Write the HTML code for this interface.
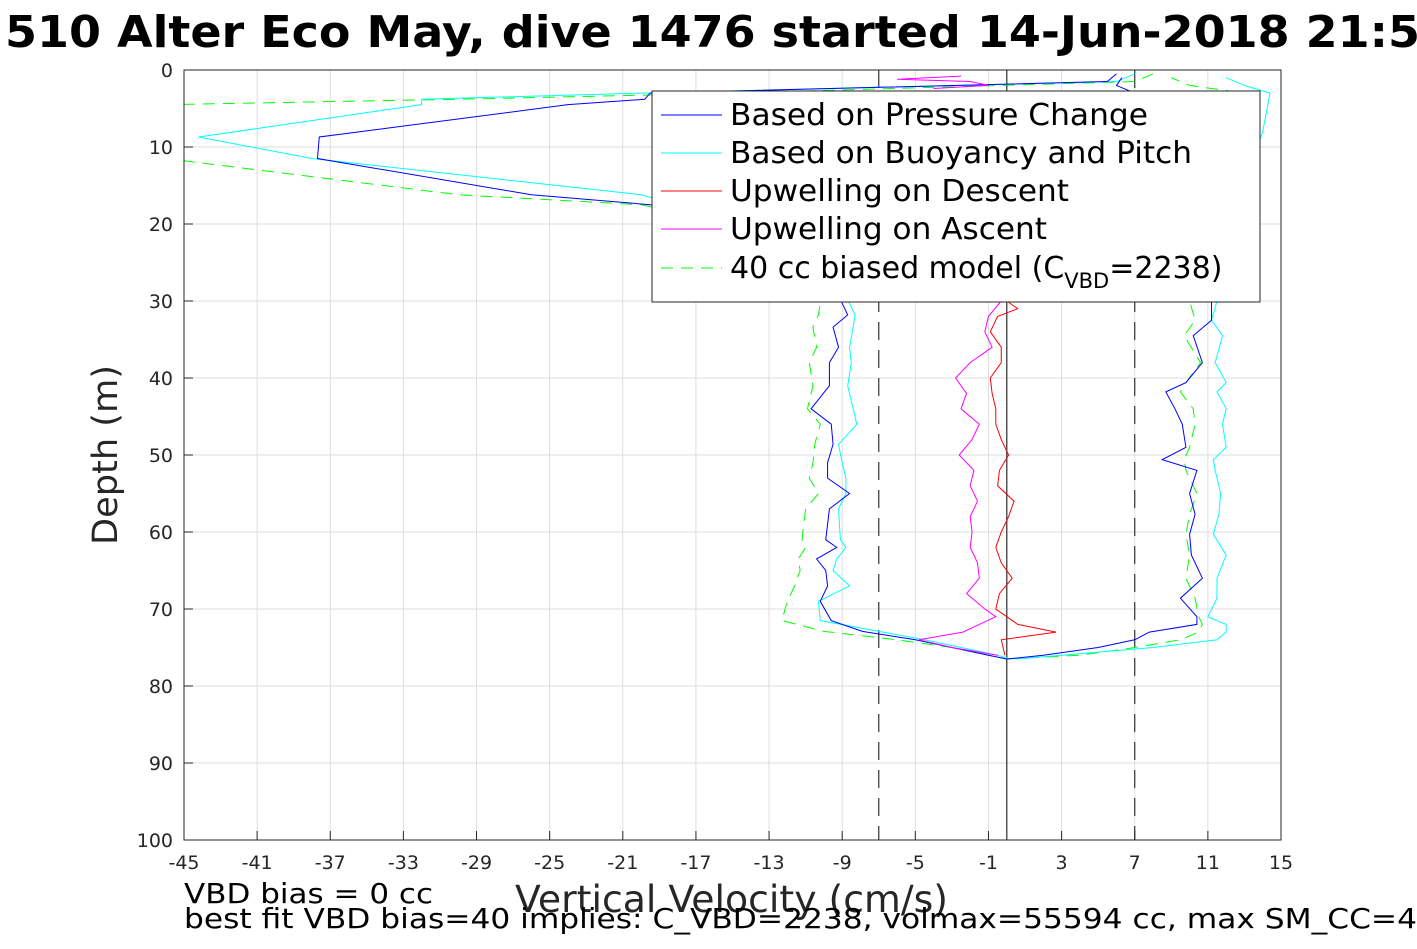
<!DOCTYPE html>
<html><head><meta charset="utf-8"><style>
body{margin:0;background:#fff;width:1417px;height:945px;overflow:hidden;font-family:"DejaVu Sans","Liberation Sans",sans-serif}
svg text{font-family:"DejaVu Sans","Liberation Sans",sans-serif}
</style></head><body>
<svg id="chart" width="1417" height="945">
<text x="5" y="47" font-size="44" font-weight="bold" textLength="1415" lengthAdjust="spacingAndGlyphs">510 Alter Eco May, dive 1476 started 14-Jun-2018 21:5</text>
<g id="grid"></g>
<g id="series" clip-path="url(#clip)"></g>
<defs><clipPath id="clip"><rect x="184" y="70" width="1097" height="770"/></clipPath></defs>
<rect x="184" y="70" width="1097" height="770" fill="none" stroke="#262626" stroke-width="1"/>
<g id="ticks"></g>
<text transform="translate(117,455) rotate(-90)" text-anchor="middle" font-size="35" fill="#262626" textLength="180" lengthAdjust="spacingAndGlyphs">Depth (m)</text>
<text x="515" y="912" font-size="37" fill="#262626" textLength="433" lengthAdjust="spacingAndGlyphs">Vertical Velocity (cm/s)</text>
<text x="184" y="903" font-size="28" textLength="249" lengthAdjust="spacingAndGlyphs">VBD bias = 0 cc</text>
<text x="184" y="928" font-size="28" textLength="1233" lengthAdjust="spacingAndGlyphs">best fit VBD bias=40 implies: C_VBD=2238, volmax=55594 cc, max SM_CC=4</text>
<g>
<rect x="652" y="91" width="608" height="211" fill="#fff" stroke="#262626"/>
<line x1="661" y1="115" x2="722" y2="115" stroke="#0000ff"/>
<text x="730" y="125" font-size="30" textLength="418" lengthAdjust="spacingAndGlyphs">Based on Pressure Change</text>
<line x1="661" y1="153" x2="722" y2="153" stroke="#00ffff"/>
<text x="730" y="163" font-size="30" textLength="462" lengthAdjust="spacingAndGlyphs">Based on Buoyancy and Pitch</text>
<line x1="661" y1="191" x2="722" y2="191" stroke="#ff0000"/>
<text x="730" y="201" font-size="30" textLength="339" lengthAdjust="spacingAndGlyphs">Upwelling on Descent</text>
<line x1="661" y1="229" x2="722" y2="229" stroke="#ff00ff"/>
<text x="730" y="239" font-size="30" textLength="317" lengthAdjust="spacingAndGlyphs">Upwelling on Ascent</text>
<line x1="661" y1="268" x2="722" y2="268" stroke="#00ff00" stroke-dasharray="12,8"/>
<text x="730" y="278" font-size="30">40 cc biased model (C<tspan font-size="21" dy="10">VBD</tspan><tspan dy="-10">=2238)</tspan></text>
</g>
</svg>
<script>
const xTicks=[-45,-41,-37,-33,-29,-25,-21,-17,-13,-9,-5,-1,3,7,11,15];
const yTicks=[0,10,20,30,40,50,60,70,80,90,100];
const descDepth=[0.5,1.5,3,3.8,4.5,8.7,11.5,16.2,17.5,20,24,28,30.3,31.8,33.4,36,38,41,44,46,48.6,51,53,55,57,61,62,63.5,65,67,69,71.5,72.9,74,75,76,76.5];
const pressDesc=[6,5.5,-19.5,-19.8,-24,-37.6,-37.7,-26,-19.5,-14,-11,-9.5,-9,-8.7,-9.5,-9.2,-9.7,-9.7,-10.7,-9.6,-9.5,-9.8,-9.8,-8.6,-9.7,-9.9,-9.3,-10.4,-9.9,-9.8,-10.2,-9.6,-7.9,-5,-3,-1,0];
const buoyDesc=[7,6,-20,-32,-32,-44.2,-38,-20,-18,-14,-11,-9,-8.6,-8.3,-8.4,-8.6,-8.5,-8.7,-8.4,-8.2,-9.2,-9.0,-8.8,-8.8,-9.2,-9.1,-8.8,-9.3,-9.5,-8.6,-10.3,-10.2,-7,-4.5,-2.5,-0.5,0.2];
const modelDesc=[8,7,-15,-30,-46,-46,-46,-30,-20,-15,-12,-10.5,-10.2,-10.3,-10.6,-10.4,-10.8,-10.6,-10.9,-10.2,-10.5,-10.6,-10.8,-10.3,-11,-11.2,-11,-11.4,-11.3,-11.6,-12,-12.3,-10,-6,-3,-1,0];
const ascDepth=[76.5,76,75,74,73,72,71,68.6,66,63,60.3,57.7,55,52,50.6,49,46,44,41.8,40.6,38,34.5,32.5,30,25,15,8,3,2,1];
const pressAsc=[0,2,5,7,7.8,10.4,10.4,9.5,10.7,10.1,10,10.3,10,10.4,8.5,9.8,9.6,9.2,8.7,9.8,10.7,10.2,11.2,11.2,11,10,9,7,6,6.3];
const buoyAsc=[0.5,3,8,11.5,12,12,11,11.5,11.5,12,11.3,11.6,11.7,11.4,11.3,12,11.8,12,11.5,12,11.4,11.8,11.2,11.5,12,13,14,14.4,13,12];
const modelAsc=[0,4,7,9.5,10.5,10.7,10.5,10.3,9.8,10,9.8,10,10.4,9.8,9.7,10,10.3,10.2,9.5,9.8,10.6,9.7,10.3,10,10,11,12,13,10,9];
const redDepth=[30,31,32,34,36,38,40,42,44,46,48,50,52,54,56,58,60,62,64,66,68,70,71,72,73,74,75,76];
const redVel=[0,0.6,-0.5,-0.9,-0.3,-0.3,-0.9,-0.8,-0.6,-0.6,-0.3,0.1,-0.4,-0.5,0.4,0.1,-0.3,-0.6,-0.3,0.3,-0.4,-0.6,0,0.6,2.7,-0.3,-0.2,-0.1];
const magDepth=[76,75,74,73,72,71,70,68,66,64,62,60,58,56,54,52,50,48,46,44,42,40,38,36,34,32,30];
const magVel=[-0.5,-3,-4.8,-2.4,-1.5,-0.6,-1.2,-2.2,-1.5,-1.6,-2.0,-1.9,-2.0,-1.6,-2.0,-1.8,-2.6,-1.9,-1.5,-2.5,-2.2,-2.8,-2.0,-0.8,-1.2,-1.0,-0.3];
const magTopDepth=[0.8,1.2,1.5,2,2.4];
const magTopVel=[-2.5,-6,-2,-1,-4];
const xMin=-45,xMax=15,yMin=0,yMax=100;
function X(v){return 184+(v-xMin)*1097/(xMax-xMin);}
function Y(d){return 70+(d-yMin)*770/(yMax-yMin);}
const NS='http://www.w3.org/2000/svg';
const grid=document.getElementById('grid'),ticks=document.getElementById('ticks'),series=document.getElementById('series');
function mk(t,a,p){const e=document.createElementNS(NS,t);for(const k in a)e.setAttribute(k,a[k]);p.appendChild(e);return e;}
xTicks.forEach(v=>{
 const g=mk('line',{x1:X(v),x2:X(v),y1:70,y2:840,stroke:'#dedede'},grid);
 
 
 const t=mk('text',{x:X(v),y:869,'text-anchor':'middle','font-size':19,fill:'#262626'},ticks);
 t.textContent=v;
 
 
 mk('line',{x1:X(v),x2:X(v),y1:840,y2:831,stroke:'#262626'},ticks);
});
yTicks.forEach(d=>{
 const g=mk('line',{x1:184,x2:1281,y1:Y(d),y2:Y(d),stroke:'#dedede'},grid);
 
 
 const t=mk('text',{x:173,y:Y(d)+7,'text-anchor':'end','font-size':19,fill:'#262626'},ticks);
 t.textContent=d;
 
 
 mk('line',{x1:184,x2:193,y1:Y(d),y2:Y(d),stroke:'#262626'},ticks);
});
function vline(v,dash,name){
 const l=mk('line',{x1:X(v),x2:X(v),y1:70,y2:840,stroke:dash?'#333':'#555','stroke-width':dash?1.2:1.5},series);
 if(dash)l.setAttribute('stroke-dasharray','18,10');
 
 
}
vline(-7,true,'lower-bound-line');vline(7,true,'upper-bound-line');vline(0,false,'zero-line');
function poly(ds,vs,color,dash,name){
 const p=mk('polyline',{points:ds.map((d,i)=>X(vs[i])+','+Y(d)).join(' '),fill:'none',stroke:color,'stroke-width':1},series);
 if(dash)p.setAttribute('stroke-dasharray','12,8');
 
 
}
poly(descDepth,modelDesc,'#00ff00',true,'model-descent');
poly(ascDepth,modelAsc,'#00ff00',true,'model-ascent');
poly(descDepth,buoyDesc,'#00ffff',false,'buoyancy-descent');
poly(ascDepth,buoyAsc,'#00ffff',false,'buoyancy-ascent');
poly(descDepth,pressDesc,'#0000ff',false,'pressure-descent');
poly(ascDepth,pressAsc,'#0000ff',false,'pressure-ascent');
poly(redDepth,redVel,'#ff0000',false,'upwelling-descent');
poly(magDepth,magVel,'#ff00ff',false,'upwelling-ascent');
poly(magTopDepth,magTopVel,'#ff00ff',false,'upwelling-ascent-surface');
</script>
</body></html>
